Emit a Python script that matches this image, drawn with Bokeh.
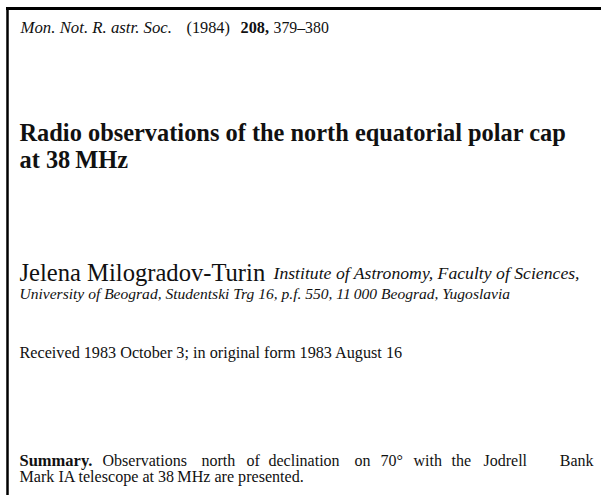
from bokeh.plotting import figure
from bokeh.models import Range1d
from bokeh.core.properties import value
from bokeh.embed import file_html
from bokeh.resources import INLINE

# ---- text content (the "data" of this page) ----
header_runs = ["Mon. Not. R. astr. Soc.", "(1984)", "208,", "379\u2013380"]
header_styles = ["italic", "normal", "bold", "normal"]
header_sizes = ["16.8px", "16.3px", "16.3px", "15.8px"]
header_x = [20, 186, 240, 273]

title_lines = ["Radio observations of the north equatorial polar cap", "at 38\u2009MHz"]
author = "Jelena Milogradov-Turin"
affil_1 = "Institute of Astronomy, Faculty of Sciences,"
affil_2 = "University of Beograd, Studentski Trg 16, p.f. 550, 11\u2009000 Beograd, Yugoslavia"
received = "Received 1983 October 3; in original form 1983 August 16"
summary_head = "Summary."
summary_words = ["Observations", "north", "of", "declination", "on", "70\u00b0",
                 "with", "the", "Jodrell", "Bank"]
summary_word_x = [102, 201, 246, 268, 354, 380, 413, 451, 483, 593]
summary_line2 = "Mark IA telescope at 38\u2009MHz are presented."

FONT = value("Liberation Serif")
INK = "#111111"

W, H = 601, 495
p = figure(width=W, height=H, x_range=Range1d(0, W), y_range=Range1d(H, 0),
           output_backend="svg", toolbar_location=None,
           x_axis_type=None, y_axis_type=None, min_border=0)
p.grid.visible = False
p.outline_line_color = None
p.background_fill_color = "white"
p.border_fill_color = "white"


def put(x, y, txt, size, style="normal", align="left"):
    p.text(x=x, y=y, text=txt, text_font=FONT, text_font_size=size,
           text_font_style=style, text_baseline="alphabetic", text_align=align,
           text_color=INK)


# frame lines (top and left)
p.line(x=[5.5, W], y=[8, 8], line_width=3, line_color="black")
p.line(x=[7, 7], y=[6.5, H], line_width=2.5, line_color="black")

# header
for hx, ht, hs, hz in zip(header_x, header_runs, header_styles, header_sizes):
    put([hx], [27], [ht], hz, hs)

# title
put([19, 19], [132, 159], title_lines, "24.4px", "bold")

# author + affiliation
put([19], [272], [author], "24.6px")
put([273], [272], [affil_1], "17.7px", "italic")
put([19], [293], [affil_2], "15.55px", "italic")

# received
put([19], [352], [received], "16.2px")

# summary
put([19], [460], [summary_head], "16.5px", "bold")
put(summary_word_x[:-1], [460] * (len(summary_words) - 1), summary_words[:-1], "16px")
put([summary_word_x[-1]], [460], [summary_words[-1]], "16px", align="right")
put([19], [476], [summary_line2], "16.1px")

open("out.html", "w").write(file_html(p, INLINE))
